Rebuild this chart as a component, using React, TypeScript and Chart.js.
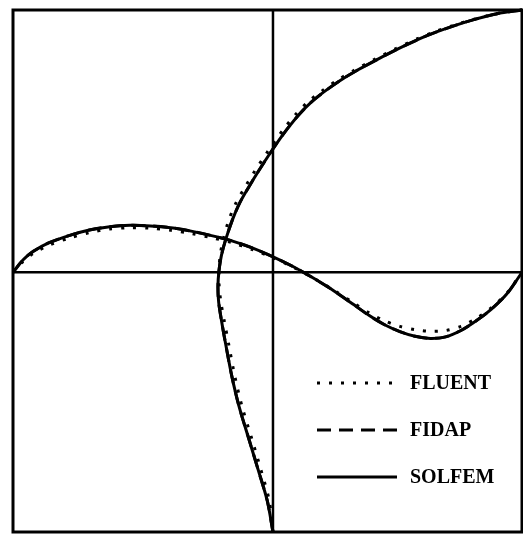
import React, { useEffect, useRef } from "react";
import { Chart, registerables } from "chart.js";

Chart.register(...registerables);

// Horizontal velocity u along the vertical centreline (position y from bottom to lid)
const uProfileY = [0, 0.06, 0.12, 0.18, 0.24, 0.3, 0.36, 0.4, 0.44, 0.47, 0.5, 0.53, 0.56, 0.598, 0.63, 0.661, 0.693, 0.726, 0.751, 0.775, 0.8, 0.824, 0.845, 0.865, 0.885, 0.905, 0.925, 0.945, 0.958, 0.971, 0.982, 0.993, 1.0];
const uSolfem = [0, -0.023, -0.06, -0.098, -0.136, -0.166, -0.19, -0.205, -0.218, -0.221, -0.217, -0.207, -0.19, -0.163, -0.134, -0.097, -0.056, -0.011, 0.025, 0.062, 0.105, 0.155, 0.21, 0.27, 0.34, 0.418, 0.5, 0.59, 0.657, 0.735, 0.81, 0.9, 1.0];
const uFidap = [0, -0.023, -0.06, -0.098, -0.136, -0.166, -0.19, -0.205, -0.218, -0.221, -0.217, -0.207, -0.19, -0.163, -0.134, -0.097, -0.056, -0.011, 0.025, 0.062, 0.105, 0.155, 0.21, 0.27, 0.34, 0.418, 0.5, 0.59, 0.657, 0.735, 0.81, 0.9, 1.0];
const uFluent = [0, -0.015, -0.049, -0.086, -0.124, -0.154, -0.178, -0.194, -0.209, -0.216, -0.217, -0.212, -0.2, -0.177, -0.149, -0.112, -0.071, -0.025, 0.011, 0.048, 0.091, 0.141, 0.197, 0.257, 0.328, 0.406, 0.489, 0.58, 0.648, 0.728, 0.805, 0.897, 1.0];

// Vertical velocity v along the horizontal centreline (position x from left to right wall)
const vProfileX = [0, 0.02, 0.04, 0.07, 0.11, 0.15, 0.19, 0.23, 0.27, 0.31, 0.35, 0.39, 0.43, 0.47, 0.51, 0.55, 0.59, 0.63, 0.67, 0.7, 0.73, 0.76, 0.79, 0.82, 0.85, 0.88, 0.91, 0.94, 0.97, 1.0];
const vSolfem = [0, 0.048, 0.08, 0.112, 0.14, 0.161, 0.174, 0.179, 0.177, 0.17, 0.157, 0.14, 0.12, 0.093, 0.06, 0.022, -0.022, -0.07, -0.124, -0.165, -0.2, -0.226, -0.244, -0.252, -0.246, -0.222, -0.185, -0.14, -0.083, 0];
const vFidap = [0, 0.048, 0.08, 0.112, 0.14, 0.161, 0.174, 0.179, 0.177, 0.17, 0.157, 0.14, 0.12, 0.093, 0.06, 0.022, -0.022, -0.07, -0.124, -0.165, -0.2, -0.226, -0.244, -0.252, -0.246, -0.222, -0.185, -0.14, -0.083, 0];
const vFluent = [0, 0.042, 0.072, 0.103, 0.13, 0.151, 0.165, 0.17, 0.168, 0.16, 0.148, 0.132, 0.113, 0.087, 0.056, 0.02, -0.022, -0.068, -0.118, -0.155, -0.185, -0.206, -0.219, -0.225, -0.222, -0.206, -0.176, -0.135, -0.08, 0];

const seriesNames = ["FLUENT", "FIDAP", "SOLFEM"];
const seriesDash = [[3, 9], [14, 8], []];

const toPoints = (xs: number[], ys: number[]) => xs.map((x, i) => ({ x, y: ys[i] }));

// Outer frame around the plotting area
const framePlugin = {
  id: "frame",
  afterDraw(chart: any) {
    const { ctx, chartArea: a } = chart;
    ctx.save();
    ctx.strokeStyle = "#000";
    ctx.lineWidth = 3;
    ctx.setLineDash([]);
    ctx.strokeRect(a.left, a.top, a.right - a.left, a.bottom - a.top);
    ctx.restore();
  },
};

// Key drawn inside the lower-right part of the plot
const keyPlugin = {
  id: "key",
  afterDraw(chart: any) {
    const { ctx } = chart;
    const rows = [383, 430, 477];
    ctx.save();
    ctx.strokeStyle = "#000";
    ctx.fillStyle = "#000";
    ctx.lineWidth = 3;
    ctx.font = "bold 20px 'Liberation Serif', 'Times New Roman', serif";
    ctx.textBaseline = "middle";
    seriesNames.forEach((name, i) => {
      const y = rows[i];
      ctx.setLineDash(seriesDash[i]);
      ctx.beginPath();
      ctx.moveTo(317, y);
      ctx.lineTo(397, y);
      ctx.stroke();
      ctx.setLineDash([]);
      ctx.fillText(name, 410, y + 1);
    });
    ctx.restore();
  },
};

export default function App() {
  const canvasRef = useRef<HTMLCanvasElement | null>(null);

  useEffect(() => {
    const canvas = canvasRef.current;
    if (!canvas) return;

    const curve = (data: any[], dash: number[], order: number, xAxisID: string, yAxisID: string, width = 3) => ({
      data,
      xAxisID,
      yAxisID,
      showLine: true,
      borderColor: "#000",
      borderWidth: width,
      borderDash: dash,
      pointRadius: 0,
      tension: 0.3,
      fill: false,
      clip: 6,
      order,
    });

    const chart = new Chart(canvas, {
      type: "scatter",
      data: {
        datasets: [
          // centrelines
          curve([{ x: 0, y: 0 }, { x: 0, y: 1 }], [], 5, "xu", "yy", 2.5),
          curve([{ x: 0, y: 0 }, { x: 1, y: 0 }], [], 5, "xx", "yv", 2.5),
          // u(y) profiles
          curve(toPoints(uFluent, uProfileY), seriesDash[0], 3, "xu", "yy"),
          curve(toPoints(uFidap, uProfileY), seriesDash[1], 2, "xu", "yy"),
          curve(toPoints(uSolfem, uProfileY), seriesDash[2], 1, "xu", "yy"),
          // v(x) profiles
          curve(toPoints(vProfileX, vFluent), seriesDash[0], 3, "xx", "yv"),
          curve(toPoints(vProfileX, vFidap), seriesDash[1], 2, "xx", "yv"),
          curve(toPoints(vProfileX, vSolfem), seriesDash[2], 1, "xx", "yv"),
        ],
      },
      options: {
        responsive: false,
        animation: false,
        events: [],
        devicePixelRatio: 1,
        layout: { padding: { left: 13, top: 10, right: 1, bottom: 2 } },
        plugins: {
          legend: { display: false },
          tooltip: { enabled: false },
          title: { display: false },
        },
        scales: {
          xu: { type: "linear", position: "bottom", min: -1.044, max: 1.0, display: false },
          yy: { type: "linear", position: "left", min: 0, max: 1, display: false },
          xx: { type: "linear", position: "bottom", min: 0, max: 1, display: false },
          yv: { type: "linear", position: "left", min: -0.99, max: 1.0, display: false },
        },
      },
      plugins: [framePlugin, keyPlugin],
    });

    return () => chart.destroy();
  }, []);

  return (
    <div style={{ position: "absolute", left: 0, top: 0, width: 523, height: 534, background: "#fff" }}>
      <canvas ref={canvasRef} width={523} height={534} />
    </div>
  );
}
